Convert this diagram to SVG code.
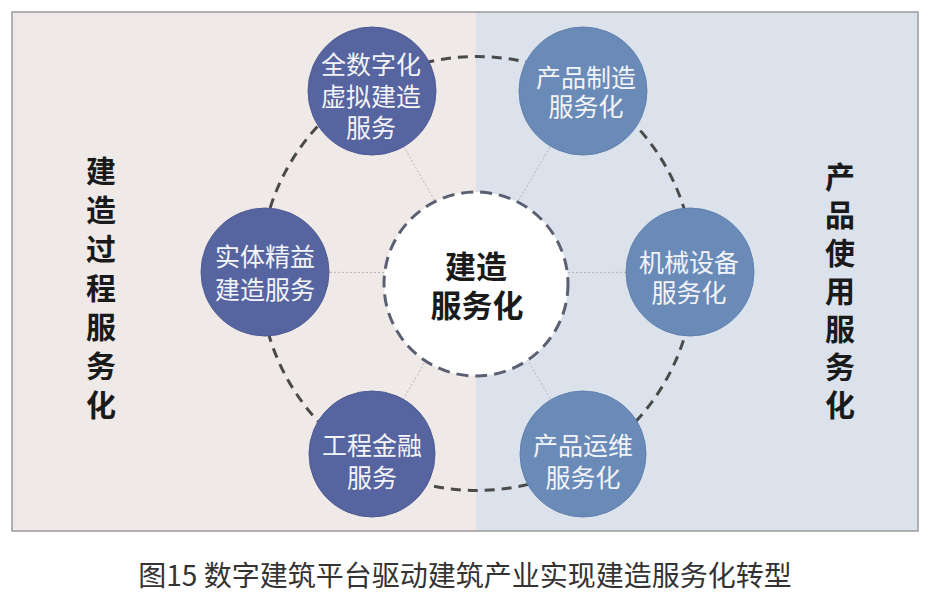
<svg xmlns="http://www.w3.org/2000/svg" width="932" height="600" viewBox="0 0 932 600">
<style>
.cjk{font-family:"Noto Sans CJK SC","Noto Sans",sans-serif}
.nt{font-size:25px;fill:#f3f4f8;text-anchor:middle}
.side{font-size:30px;font-weight:700;fill:#1a1a1a;text-anchor:middle}
.ctr{font-size:31px;font-weight:700;fill:#1a1a1a;text-anchor:middle}
.nl{fill:#56649f;stroke:#4e5a92;stroke-width:1}
.nr{fill:#6a8bb8;stroke:#6080ad;stroke-width:1}
.spoke{stroke:#b5b5b5;stroke-width:1;stroke-dasharray:2 2;fill:none}
.ring{fill:none;stroke:#4a4a4a;stroke-width:3;stroke-dasharray:10 7}
</style>
<rect x="0" y="0" width="932" height="600" fill="#ffffff"/>
<g id="frame">
<rect x="12" y="12" width="464" height="519" fill="#efeae8"/>
<rect x="476" y="12" width="442" height="519" fill="#dbe2ec"/>
<rect x="12" y="12" width="906" height="519" fill="none" stroke="#9a9a9a" stroke-width="1.5"/>
</g>
<g id="side-left" class="cjk">
<text class="side"><tspan x="101" y="182">建</tspan><tspan x="101" y="221">造</tspan><tspan x="101" y="260">过</tspan><tspan x="101" y="299">程</tspan><tspan x="101" y="338">服</tspan><tspan x="101" y="377">务</tspan><tspan x="101" y="416">化</tspan></text>
</g>
<g id="side-right" class="cjk">
<text class="side"><tspan x="840" y="188">产</tspan><tspan x="840" y="226">品</tspan><tspan x="840" y="264">使</tspan><tspan x="840" y="302">用</tspan><tspan x="840" y="340">服</tspan><tspan x="840" y="378">务</tspan><tspan x="840" y="416">化</tspan></text>
</g>
<g id="connectors">
<circle class="ring" cx="477" cy="273.5" r="217"/>
<line class="spoke" x1="476" y1="273" x2="372" y2="91"/>
<line class="spoke" x1="476" y1="273" x2="583" y2="91"/>
<line class="spoke" x1="476" y1="273" x2="265" y2="272"/>
<line class="spoke" x1="476" y1="273" x2="690" y2="272"/>
<line class="spoke" x1="476" y1="273" x2="372" y2="454"/>
<line class="spoke" x1="476" y1="273" x2="583" y2="454"/>
</g>
<g id="center" class="cjk">
<circle cx="476" cy="284" r="92" fill="#ffffff" stroke="#5a6072" stroke-width="3" stroke-dasharray="12 7"/>
<text class="ctr"><tspan x="476" y="278">建造</tspan><tspan x="477" y="317">服务化</tspan></text>
</g>
<g id="n-digital" class="cjk">
<circle class="nl" cx="372" cy="91" r="64"/>
<text class="nt"><tspan x="371" y="74">全数字化</tspan><tspan x="371" y="106">虚拟建造</tspan><tspan x="371" y="137">服务</tspan></text>
</g>
<g id="n-manufacture" class="cjk">
<circle class="nr" cx="583" cy="91" r="64"/>
<text class="nt"><tspan x="586" y="87">产品制造</tspan><tspan x="586" y="116">服务化</tspan></text>
</g>
<g id="n-lean" class="cjk">
<circle class="nl" cx="265" cy="272" r="64"/>
<text class="nt"><tspan x="265" y="266">实体精益</tspan><tspan x="265" y="299">建造服务</tspan></text>
</g>
<g id="n-machine" class="cjk">
<circle class="nr" cx="690" cy="272" r="64"/>
<text class="nt"><tspan x="689" y="272">机械设备</tspan><tspan x="689" y="302">服务化</tspan></text>
</g>
<g id="n-finance" class="cjk">
<circle class="nl" cx="372" cy="454" r="63"/>
<text class="nt"><tspan x="372" y="455">工程金融</tspan><tspan x="372" y="487">服务</tspan></text>
</g>
<g id="n-ops" class="cjk">
<circle class="nr" cx="583" cy="454" r="63"/>
<text class="nt"><tspan x="583" y="455">产品运维</tspan><tspan x="583" y="487">服务化</tspan></text>
</g>
<g id="caption" class="cjk">
<text x="465" y="586" font-size="28" fill="#333333" text-anchor="middle">图15 数字建筑平台驱动建筑产业实现建造服务化转型</text>
</g>
</svg>
